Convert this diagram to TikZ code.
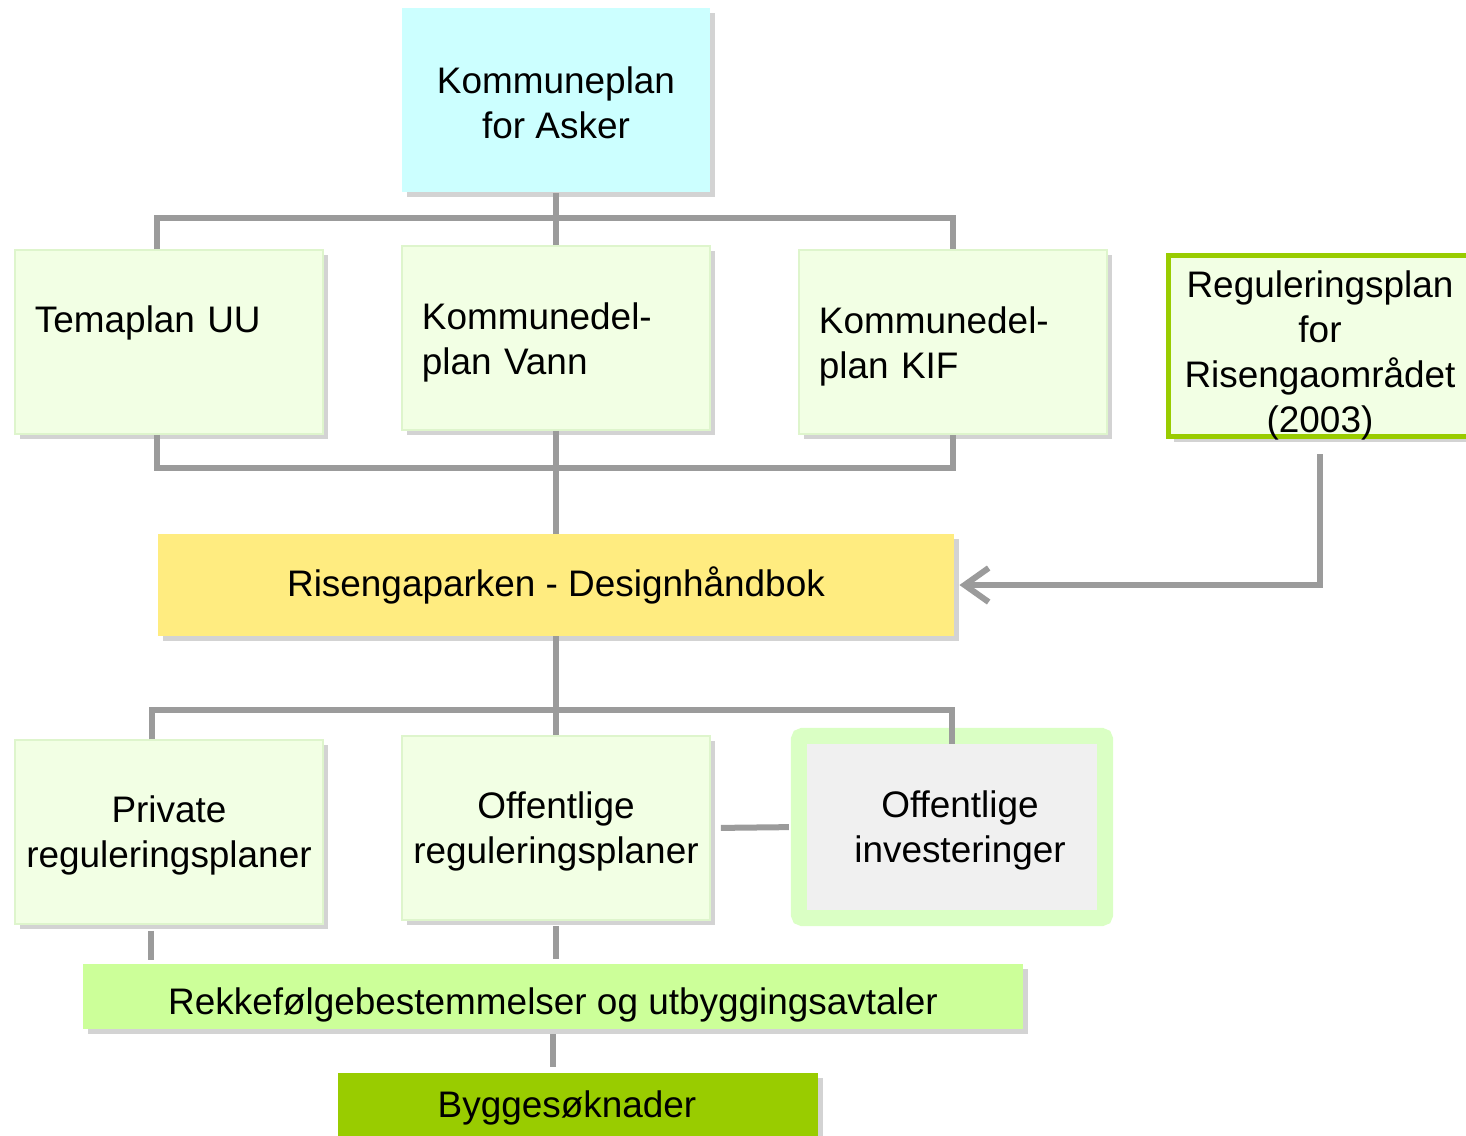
\documentclass[tikz,border=0pt]{standalone}
\usepackage{fontspec}
\setmainfont{Liberation Sans}
\usepackage{xcolor}
\usepackage{tikz}
\usetikzlibrary{arrows.meta,positioning,shadows}
\definecolor{cyanc}{RGB}{204,255,255}
\definecolor{palec}{RGB}{242,255,228}
\definecolor{edgec}{RGB}{222,245,204}
\definecolor{limec}{RGB}{153,204,0}
\definecolor{yelc}{RGB}{255,236,128}
\definecolor{mintc}{RGB}{204,255,153}
\definecolor{invc}{RGB}{218,255,196}
\definecolor{greyc}{RGB}{240,240,240}
\definecolor{linec}{RGB}{155,155,155}

\begin{document}
\begin{tikzpicture}[x=0.01cm,y=-0.01cm,font=\fontsize{10.5}{12.8}\selectfont,>={Straight Barb[length=2.4mm,width=3.4mm]}]
\tikzstyle{f}=[draw=edgec,fill=palec,inner sep=0pt,minimum width=3.08cm,minimum height=1.84cm,drop shadow={shadow xshift=0.05cm,shadow yshift=-0.05cm,opacity=0.35}]
\tikzstyle{fl}=[f,text width=2.68cm,align=left]
\tikzstyle{l}=[linec,line width=0.06cm]
\useasboundingbox (0,0) rectangle (1466,1135);
% plan level
\node[f,fill=cyanc,draw=none,align=center,text height=21.8pt] (kp) at (556,100) {Kommuneplan\\for Asker};
\node[fl] (t) at (169,342) {Temaplan UU\\\mbox{}};
\node[fl,text depth=12.7pt] (v) at (556,338) {Kommunedel-\\plan Vann};
\node[fl,text depth=12.7pt] (k) at (953,342) {Kommunedel-\\plan KIF};
\node[f,draw=limec,line width=0.05cm,minimum width=3.02cm,minimum height=1.81cm,align=center,text height=49.4pt,text depth=0pt] (reg) at (1320,346) {Reguleringsplan\\for\\Risengaområdet\\(2003)};
% handbook
\node[f,draw=none,fill=yelc,minimum width=7.95cm,minimum height=1.01cm] (rp) at (556,585) {Risengaparken - Designhåndbok};
% regulation level
\node[f,align=center,text depth=0pt] (p) at (169,832) {Private\\reguleringsplaner};
\node[f,align=center,text depth=0pt] (o) at (556,828) {Offentlige\\reguleringsplaner};
\node[fill=greyc,draw=invc,line width=0.16cm,rounded corners=1pt,outer sep=0pt,inner sep=0pt,text depth=0pt,minimum width=3.06cm,minimum height=1.82cm,align=center] (i) at (952,827) {\hspace*{0.16cm}Offentlige\\\hspace*{0.16cm}investeringer};
\node[f,draw=none,fill=mintc,minimum width=9.40cm,minimum height=0.65cm,text height=12.6pt] (r) at (553,996) {Rekkefølgebestemmelser og utbyggingsavtaler};
\node[f,draw=none,fill=limec,minimum width=4.79cm,minimum height=0.70cm] (b) at (578,1108) {\hspace*{-0.22cm}Byggesøknader};
% connectors
\coordinate (top) at (556,218);
\coordinate (mid) at (556,468);
\coordinate (low) at (556,710);
\draw[l] (kp.south) -- (v.north);
\draw[l] ([xshift=-0.12cm]t.north) |- (top) -| (k.north);
\draw[l] ([xshift=-0.12cm]t.south) |- (mid) -| (k.south);
\draw[l] (v.south) -- (rp.north);
\draw[l,->] ([yshift=-0.15cm]reg.south) |- ([xshift=0.05cm]rp.east);
\draw[l] (rp.south) -- (o.north);
\draw[l] ([xshift=-0.17cm]p.north) |- (low) -| ([yshift=-0.08cm]i.north);
\draw[l,shorten <=0.1cm,shorten >=0.1cm] (o.east) -- (i.west);
\draw[l,shorten <=0.06cm,shorten >=0.03cm] ([xshift=-0.18cm]p.south) -- ([xshift=-0.18cm]p.south |- r.north);
\draw[l,shorten <=0.05cm,shorten >=0.04cm] (o.south) -- (o.south |- r.north);
\draw[l,shorten <=0.05cm,shorten >=0.05cm] (r.south) -- (r.south |- b.north);
\end{tikzpicture}
\end{document}
